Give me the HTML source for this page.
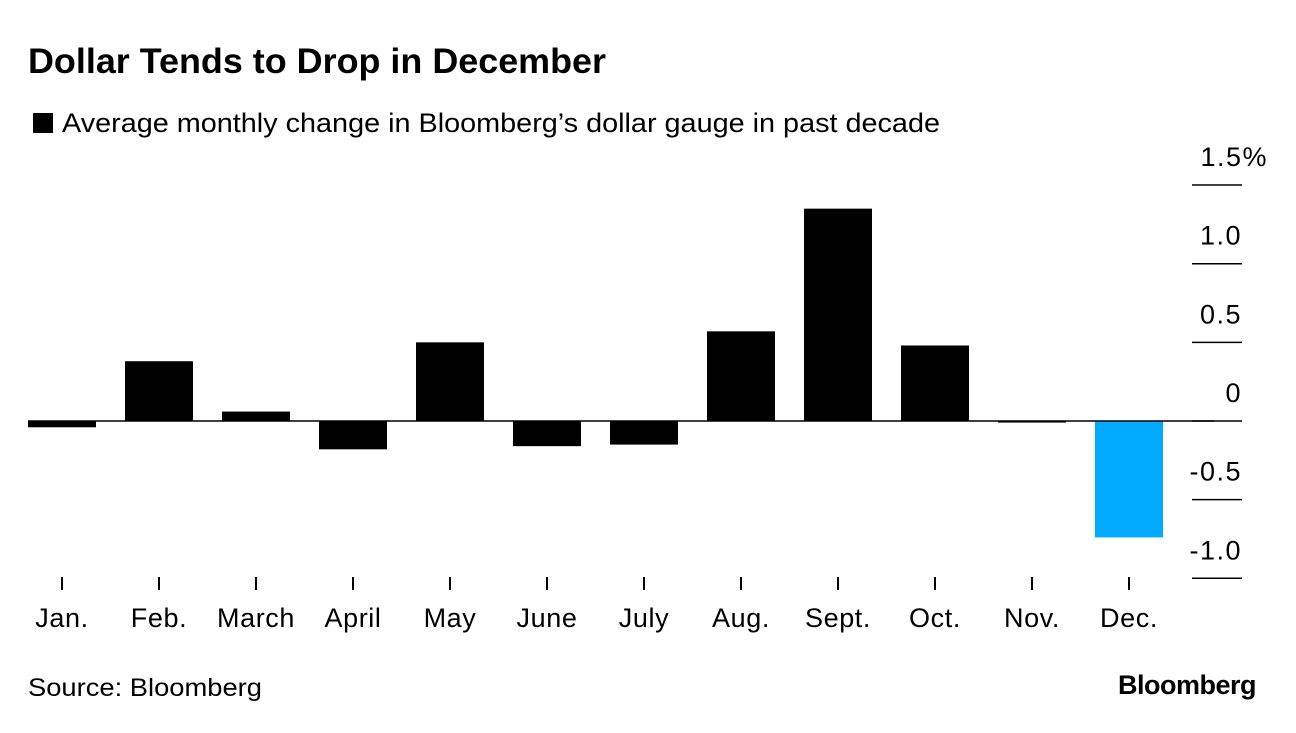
<!DOCTYPE html>
<html><head><meta charset="utf-8"><style>
body{margin:0;background:#fff;width:1296px;height:728px;overflow:hidden;font-family:"Liberation Sans",Arial,sans-serif;}
</style></head><body>
<svg width="1296" height="728" font-family="Liberation Sans, Arial, sans-serif">
<text x="28" y="73" font-size="35" font-weight="bold" textLength="578" lengthAdjust="spacingAndGlyphs">Dollar Tends to Drop in December</text>
<rect x="33" y="113" width="20" height="20" fill="#000"/>
<text x="62" y="132" font-size="27" textLength="878" lengthAdjust="spacingAndGlyphs">Average monthly change in Bloomberg’s dollar gauge in past decade</text>
<g id="axis"></g>
<g id="bars"></g>
<text x="28" y="696" font-size="25" textLength="234" lengthAdjust="spacingAndGlyphs">Source: Bloomberg</text>
<text x="1256" y="694" font-size="27" font-weight="bold" text-anchor="end" letter-spacing="-0.5">Bloomberg</text>
</svg>
<script>
const months=["Jan.","Feb.","March","April","May","June","July","Aug.","Sept.","Oct.","Nov.","Dec."];
const values=[-0.04,0.38,0.06,-0.18,0.50,-0.16,-0.15,0.57,1.35,0.48,-0.01,-0.74];
const ticks=[1.5,1.0,0.5,0,-0.5,-1.0];
const tickLabels=["1.5%","1.0","0.5","0","-0.5","-1.0"];
const ns="http://www.w3.org/2000/svg";
const y0=421, ppu=157.3;
const y=v=>y0-v*ppu;
const x=i=>28+i*97;
const bw=68;
function mk(t,a,p){const e=document.createElementNS(ns,t);for(const k in a)e.setAttribute(k,a[k]);p.appendChild(e);return e;}
const ax=document.getElementById('axis'), bg=document.getElementById('bars');
ticks.forEach((t,i)=>{
  const l=mk('line',{x1:1192,x2:1242,y1:y(t),y2:y(t),stroke:'#000','stroke-width':1.5},ax);
  
  
  const tx=mk('text',{x:i==0?1268:1242,y:y(t)-19,'font-size':27,'letter-spacing':1.5,'text-anchor':'end'},ax);
  tx.textContent=tickLabels[i];
  
  
});
values.forEach((v,i)=>{
  const top=Math.min(y(v),y0), h=Math.max(Math.abs(y(v)-y0),1.5);
  const r=mk('rect',{x:x(i),y:top,width:bw,height:h,fill:i==11?'#00aaff':'#000'},bg);
  
  
  const cx=x(i)+bw/2;
  const tk=mk('line',{x1:cx,x2:cx,y1:577,y2:590,stroke:'#000','stroke-width':2},ax);
  
  
  const lb=mk('text',{x:cx,y:627,'font-size':27,'letter-spacing':0.6,'text-anchor':'middle'},ax);
  lb.textContent=months[i];
  
  
});
const zl=mk('line',{x1:28,x2:1214,y1:y0,y2:y0,stroke:'#000','stroke-width':1.5},bg);


</script>
</body></html>
